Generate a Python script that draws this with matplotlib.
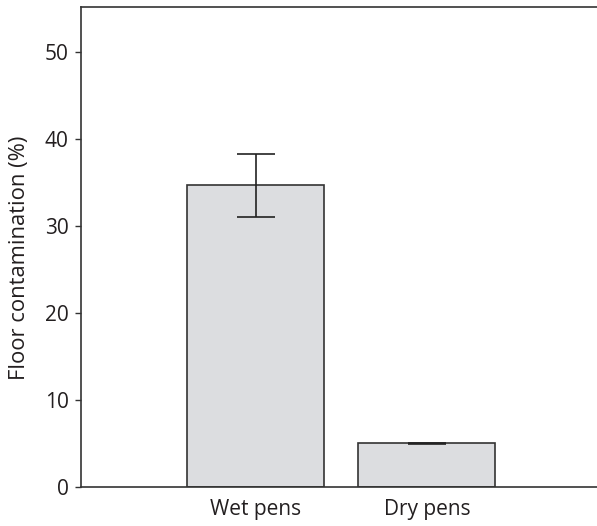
import matplotlib
matplotlib.use("Agg")
import matplotlib.pyplot as plt

categories = ["Wet pens", "Dry pens"]
values = [34.7, 5.0]
errors = [3.6, 0.05]

plt.rcParams['font.family'] = ['Open Sans', 'DejaVu Sans']
text_color = "#231f20"

fig = plt.figure(figsize=(5.97, 5.26), dpi=100)
ax = fig.add_axes([81 / 597, 1 - 486.7 / 526, 1 - 81 / 597 + 0.002, (486.7 - 7.3) / 526])

x = range(len(categories))
ax.bar(x, values, width=0.8, color="#dcdde0", edgecolor="#333333", linewidth=1.2, zorder=2)
ax.errorbar(x, values, yerr=errors, fmt="none", ecolor="#222222", elinewidth=1.2,
            capsize=13.5, capthick=1.2, zorder=3)

ax.set_xlim(-1.02, 2.0)
ax.set_ylim(0, 55.2)
ax.set_yticks([0, 10, 20, 30, 40, 50])
ax.set_xticks(list(x))
ax.set_xticklabels(categories)
ax.tick_params(axis="x", length=0, pad=9, labelsize=15, labelcolor=text_color)
ax.tick_params(axis="y", length=4, width=1, pad=5, labelsize=15, labelcolor=text_color, color="#333333")
ax.set_ylabel("Floor contamination (%)", fontsize=15.8, color=text_color)
ax.yaxis.set_label_coords(-0.098, 0.477)

ax.spines["right"].set_visible(False)
for s in ["left", "top", "bottom"]:
    ax.spines[s].set_linewidth(1.2)
    ax.spines[s].set_color("#333333")

fig.savefig("out.png", dpi=100)
